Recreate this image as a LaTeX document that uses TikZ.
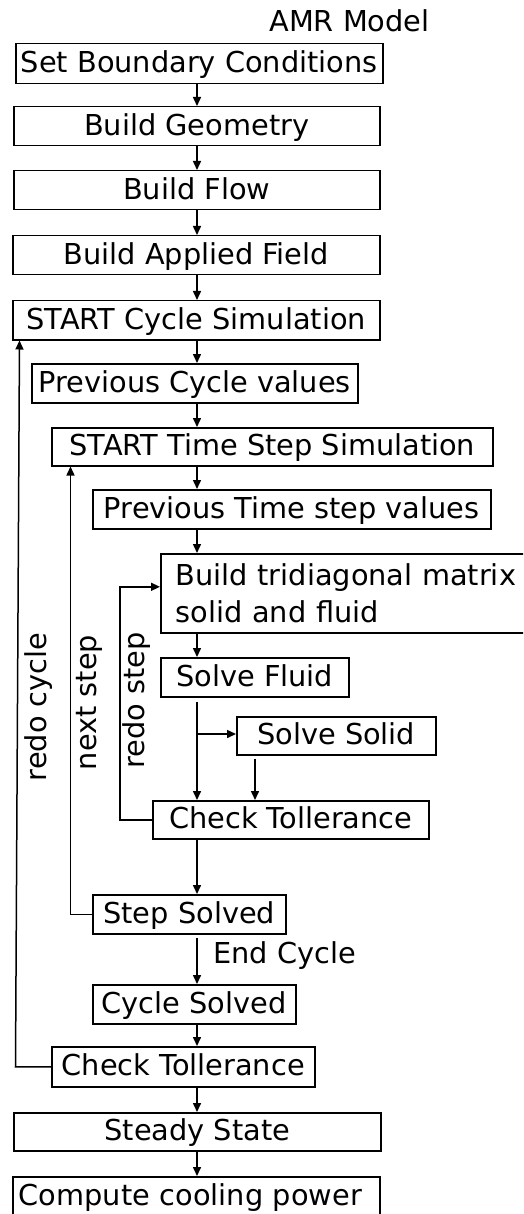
\documentclass[tikz,border=0pt]{standalone}
\usepackage{fontspec}
\setmainfont{DejaVu Sans}
\usetikzlibrary{arrows.meta,calc}
\begin{document}
\begin{tikzpicture}[x=1pt,y=-1pt,
  basebox/.style={draw, line width=1.5pt, inner sep=0pt, anchor=north west,
    font=\fontsize{28.8}{37}\selectfont},
  box/.style={basebox, text height=22pt, text depth=4pt},
  arr/.style={line width=1.5pt, -{Triangle[length=9pt,width=8pt]}},
  lbl/.style={font=\fontsize{28.8}{34}\selectfont, inner sep=0pt}]
\useasboundingbox (0,0) rectangle (523,1214);
\clip (0,0) rectangle (523,1214);

% title
\node[lbl, anchor=base] (title) at (349.5,32) {AMR Model};

% boxes
\node[box, minimum width=367pt, minimum height=40pt] (b1) at (15,43) {Set Boundary Conditions};
\node[box, minimum width=366pt, minimum height=39pt] (b2) at (13,106) {Build Geometry};
\node[box, minimum width=366pt, minimum height=39pt] (b3) at (13,170) {Build Flow};
\node[box, minimum width=367pt, minimum height=39pt] (b4) at (12,235) {Build Applied Field};
\node[box, minimum width=367pt, minimum height=39pt] (b5) at (12,300) {START Cycle Simulation};
\node[box, minimum width=326pt, minimum height=39pt] (b6) at (31,363) {Previous Cycle values};
\node[box, minimum width=441pt, minimum height=38pt] (b7) at (51,427) {START Time Step Simulation};
\node[box, minimum width=398pt, minimum height=39pt] (b8) at (92,489) {Previous Time step values};
\node[basebox, align=left, text width=410pt, inner xsep=15pt, minimum height=79pt] (b9) at (160,553) {Build tridiagonal matrix\\solid and fluid};
\node[box, minimum width=188pt, minimum height=39pt] (b10) at (160,657) {Solve Fluid};
\node[box, minimum width=199pt, minimum height=38pt] (b11) at (236,716) {Solve Solid};
\node[box, minimum width=276pt, minimum height=38pt] (b12) at (152,800) {Check Tollerance};
\node[box, minimum width=193pt, minimum height=39pt] (b13) at (92,894) {Step Solved};
\node[box, minimum width=203pt, minimum height=39pt] (b14) at (92,984) {Cycle Solved};
\node[box, minimum width=263pt, minimum height=40pt] (b15) at (51,1046) {Check Tollerance};
\node[box, minimum width=367pt, minimum height=38pt] (b16) at (13,1112) {Steady State};
\node[box, align=left, text width=355pt, inner xsep=6pt, minimum height=39pt] (b17) at (12,1176) {Compute cooling power};

% helper coordinates
\coordinate (mx) at (197,0);
\coordinate (sx) at (255,0);
\coordinate (rs) at (120,0);
\coordinate (ns) at (70.5,0);
\coordinate (rc1) at (15.5,0);
\coordinate (rc2) at (19.5,0);
\coordinate (br) at (197,734);
\coordinate (t9) at ($(b9.north west)!0.42!(b9.south west)$);

% main chain
\draw[arr] (b1.south -| mx) -- (b2.north -| mx);
\draw[arr] (b2.south -| mx) -- (b3.north -| mx);
\draw[arr] (b3.south -| mx) -- (b4.north -| mx);
\draw[arr] (b4.south -| mx) -- (b5.north -| mx);
\draw[arr] (b5.south -| mx) -- (b6.north -| mx);
\draw[arr] (b6.south -| mx) -- (b7.north -| mx);
\draw[arr] (b7.south -| mx) -- (b8.north -| mx);
\draw[arr] (b8.south -| mx) -- (b9.north -| mx);
\draw[arr] (b9.south -| mx) -- (b10.north -| mx);
\draw[arr] ([yshift=-4pt]b10.south -| mx) -- (b12.north -| mx);
\draw[arr] (br) -- (br -| b11.west);
\draw[arr] ([yshift=-3pt]b11.south -| sx) -- (b12.north -| sx);
\draw[arr] (b12.south -| mx) -- (b13.north -| mx);
\draw[arr] ([yshift=-3pt]b13.south -| mx) -- (b14.north -| mx);
\draw[arr] (b14.south -| mx) -- (b15.north -| mx);
\draw[arr] (b15.south -| mx) -- (b16.north -| mx);
\draw[arr] (b16.south -| mx) -- (b17.north -| mx);

% loops
\draw[arr] (b12.west) -- (b12.west -| rs) -- (rs |- t9) -- (t9);
\draw[arr] (b13.west) -- (b13.west -| ns) -- (ns |- b7.south);
\draw[arr] (b15.west) -- (b15.west -| rc1) -- (b5.south -| rc2);

% labels
\node[lbl, anchor=base west] (ec) at (213,963) {End Cycle};
\node[lbl, rotate=90, anchor=base] (lrc) at (46.7,707) {redo cycle};
\node[lbl, rotate=90, anchor=base] (lns) at (96,702.5) {next step};
\node[lbl, rotate=90, anchor=base] (lrs) at (144,700.5) {redo step};
\end{tikzpicture}
\end{document}
